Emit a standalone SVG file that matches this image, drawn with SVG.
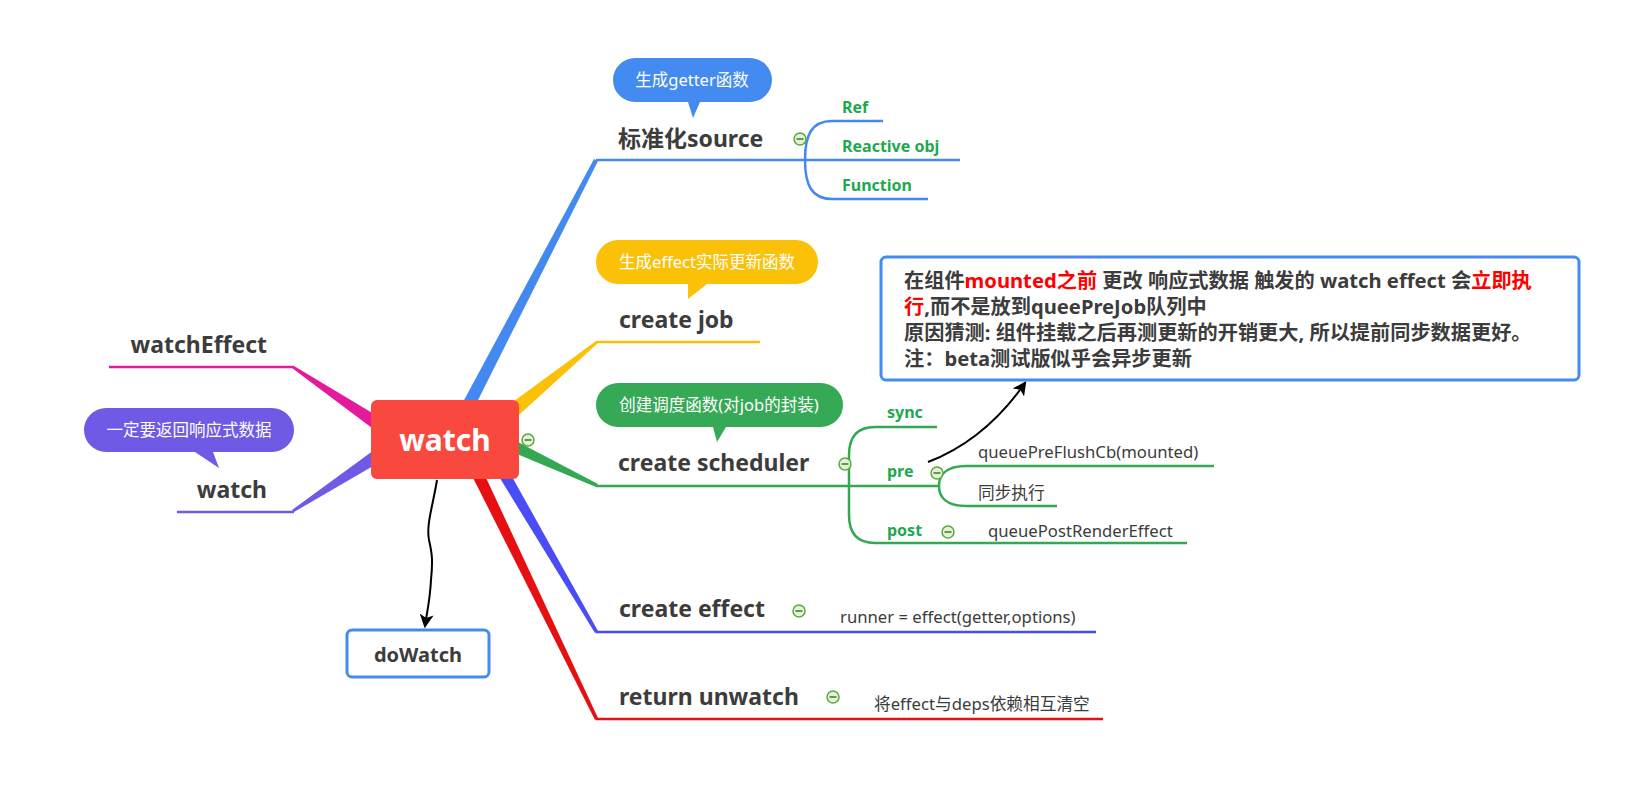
<svg xmlns="http://www.w3.org/2000/svg" width="1629" height="792" viewBox="0 0 1629 792">
<style>
text{font-family:"Noto Sans","Noto Sans CJK SC",sans-serif;}
.main{font-size:23px;font-weight:700;fill:#3c3c3c;}
.sub{font-size:16px;font-weight:700;fill:#1ea84f;}
.leaf{font-size:16.7px;fill:#3c3c3c;}
.bub{font-size:16.5px;fill:#fff;text-anchor:middle;}
.ul{fill:none;stroke-width:2.5;}
.note{font-size:20.2px;font-weight:700;fill:#3c3c3c;}
.red{fill:#ff0000;}
</style>
<defs>
<marker id="arr" viewBox="0 0 12 12" refX="10" refY="6" markerWidth="14" markerHeight="14" markerUnits="userSpaceOnUse" orient="auto">
<path d="M0,0 L12,6 L0,12 L3,6 z" fill="#000"/>
</marker>
<symbol id="c" viewBox="-7 -7 14 14" overflow="visible"><circle r="6" fill="#e4f2dc" stroke="#5aaa3a" stroke-width="1.5"/><line x1="-3.5" y1="0" x2="3.5" y2="0" stroke="#3d7a26" stroke-width="1.5"/></symbol>
</defs>
<rect width="1629" height="792" fill="#fff"/>
<g id="connectors">
<polygon points="449,428 462,432 598,161 594,159" fill="#4489f0"/>
<line class="ul" x1="596" y1="160" x2="960" y2="160" stroke="#4489f0"/>
<path class="ul" stroke="#4489f0" d="M883,121 L832,121 C811,121 805,136 805,160 C805,184 811,199 832,199 L928,199"/>
<polygon points="499,412 509,424 598,343 596,341" fill="#fbc108"/>
<line class="ul" x1="596" y1="342" x2="760" y2="342" stroke="#fbc108"/>
<polygon points="503,434 498,446 596,487 598,484" fill="#35a853"/>
<path class="ul" stroke="#35a853" d="M596,486 L939,486 M937,427 L875,427 C855,427 849,440 849,455 L849,515 C849,530 855,543 875,543 L1187,543 M1214,466 L966,466 C946,466 939,475 939,486 C939,497 946,506 966,506 L1057,506"/>
<polygon points="474,436 486,430 598,631 595,633" fill="#4a4cf6"/>
<line class="ul" x1="596" y1="632" x2="1096" y2="632" stroke="#4a4cf6"/>
<polygon points="454,440 467,437 598,718 595,720" fill="#e60f12"/>
<line class="ul" x1="596" y1="719" x2="1103" y2="719" stroke="#e60f12"/>
<polygon points="404,432 396,446 292,368 294,366" fill="#e5199b"/>
<line class="ul" x1="109" y1="367" x2="294" y2="367" stroke="#e5199b"/>
<polygon points="396,434 404,448 294,512 292,510" fill="#6f5ae6"/>
<line class="ul" x1="177" y1="512" x2="294" y2="512" stroke="#6f5ae6"/>
<path d="M437,480 C433,505 426,525 429,540 C432,553 433,560 431,580 C430,600 427,612 425,626" fill="none" stroke="#000" stroke-width="2" marker-end="url(#arr)"/>
<path d="M928,462 Q985,440 1025,383" fill="none" stroke="#000" stroke-width="2" marker-end="url(#arr)"/>
</g>
<g id="watch">
<rect x="371" y="400" width="148" height="79" rx="6" fill="#f9493f"/>
<text x="445" y="451" text-anchor="middle" font-size="30" font-weight="700" fill="#fff">watch</text>
<use href="#c" x="521" y="433" width="14" height="14"/>
</g>
<g id="source">
<path d="M635,58 L750,58 A22,22 0 0 1 750,102 L700,102 L693,118 L688,102 L635,102 A22,22 0 0 1 635,58 Z" fill="#448bf1"/>
<text class="bub" x="692" y="86">生成getter函数</text>
<text class="main" x="618" y="147">标准化source</text>
<use href="#c" x="793" y="132" width="14" height="14"/>
</g>
<g id="ref"><text class="sub" x="842" y="113">Ref</text></g>
<g id="reactive"><text class="sub" x="842" y="152">Reactive obj</text></g>
<g id="function"><text class="sub" x="842" y="191">Function</text></g>
<g id="job">
<path d="M618,240 L796,240 A22,22 0 0 1 796,284 L707,284 L688,299 L688,284 L618,284 A22,22 0 0 1 618,240 Z" fill="#fbc109"/>
<text class="bub" x="707" y="268">生成effect实际更新函数</text>
<text class="main" x="619" y="328">create job</text>
</g>
<g id="scheduler">
<path d="M618,383 L821,383 A22,22 0 0 1 821,427 L726,427 L717,442 L713,427 L618,427 A22,22 0 0 1 618,383 Z" fill="#36a957"/>
<text class="bub" x="719" y="411">创建调度函数(对job的封装)</text>
<text class="main" x="618" y="471">create scheduler</text>
<use href="#c" x="838" y="457" width="14" height="14"/>
</g>
<g id="sync"><text class="sub" x="887" y="418">sync</text></g>
<g id="pre"><text class="sub" x="887" y="477">pre</text><use href="#c" x="930" y="466" width="14" height="14"/></g>
<g id="preflush"><text class="leaf" x="978" y="458">queuePreFlushCb(mounted)</text></g>
<g id="syncexec"><text class="leaf" x="978" y="499">同步执行</text></g>
<g id="post"><text class="sub" x="887" y="536">post</text><use href="#c" x="941" y="525" width="14" height="14"/></g>
<g id="postrender"><text class="leaf" x="988" y="537">queuePostRenderEffect</text></g>
<g id="effect">
<text class="main" x="619" y="617">create effect</text>
<use href="#c" x="792" y="604" width="14" height="14"/>
</g>
<g id="runner"><text class="leaf" x="840" y="623">runner = effect(getter,options)</text></g>
<g id="unwatch">
<text class="main" x="619" y="705">return unwatch</text>
<use href="#c" x="826" y="690" width="14" height="14"/>
</g>
<g id="clear"><text class="leaf" x="874" y="710">将effect与deps依赖相互清空</text></g>
<g id="watchEffect"><text class="main" x="267" y="353" text-anchor="end">watchEffect</text></g>
<g id="watchLeft">
<path d="M106,408 L272,408 A22,22 0 0 1 272,452 L213,452 L219,468 L195,452 L106,452 A22,22 0 0 1 106,408 Z" fill="#6f5ae6"/>
<text class="bub" x="189" y="436">一定要返回响应式数据</text>
<text class="main" x="267" y="498" text-anchor="end">watch</text>
</g>
<g id="doWatch">
<rect x="347" y="630" width="142" height="47" rx="5" fill="#fff" stroke="#448bf1" stroke-width="3"/>
<text x="418" y="662" text-anchor="middle" font-size="20" font-weight="700" fill="#3c3c3c">doWatch</text>
</g>
<g id="note">
<rect x="881" y="257" width="698" height="123" rx="5" fill="#fff" stroke="#448bf1" stroke-width="3"/>
<text class="note" x="904" y="288">在组件<tspan class="red">mounted之前</tspan> 更改 响应式数据 触发的 watch effect 会<tspan class="red">立即执</tspan></text>
<text class="note" x="904" y="314"><tspan class="red">行</tspan>,而不是放到queePreJob队列中</text>
<text class="note" x="904" y="340">原因猜测: 组件挂载之后再测更新的开销更大, 所以提前同步数据更好。</text>
<text class="note" x="904" y="366">注：beta测试版似乎会异步更新</text>
</g>
</svg>
